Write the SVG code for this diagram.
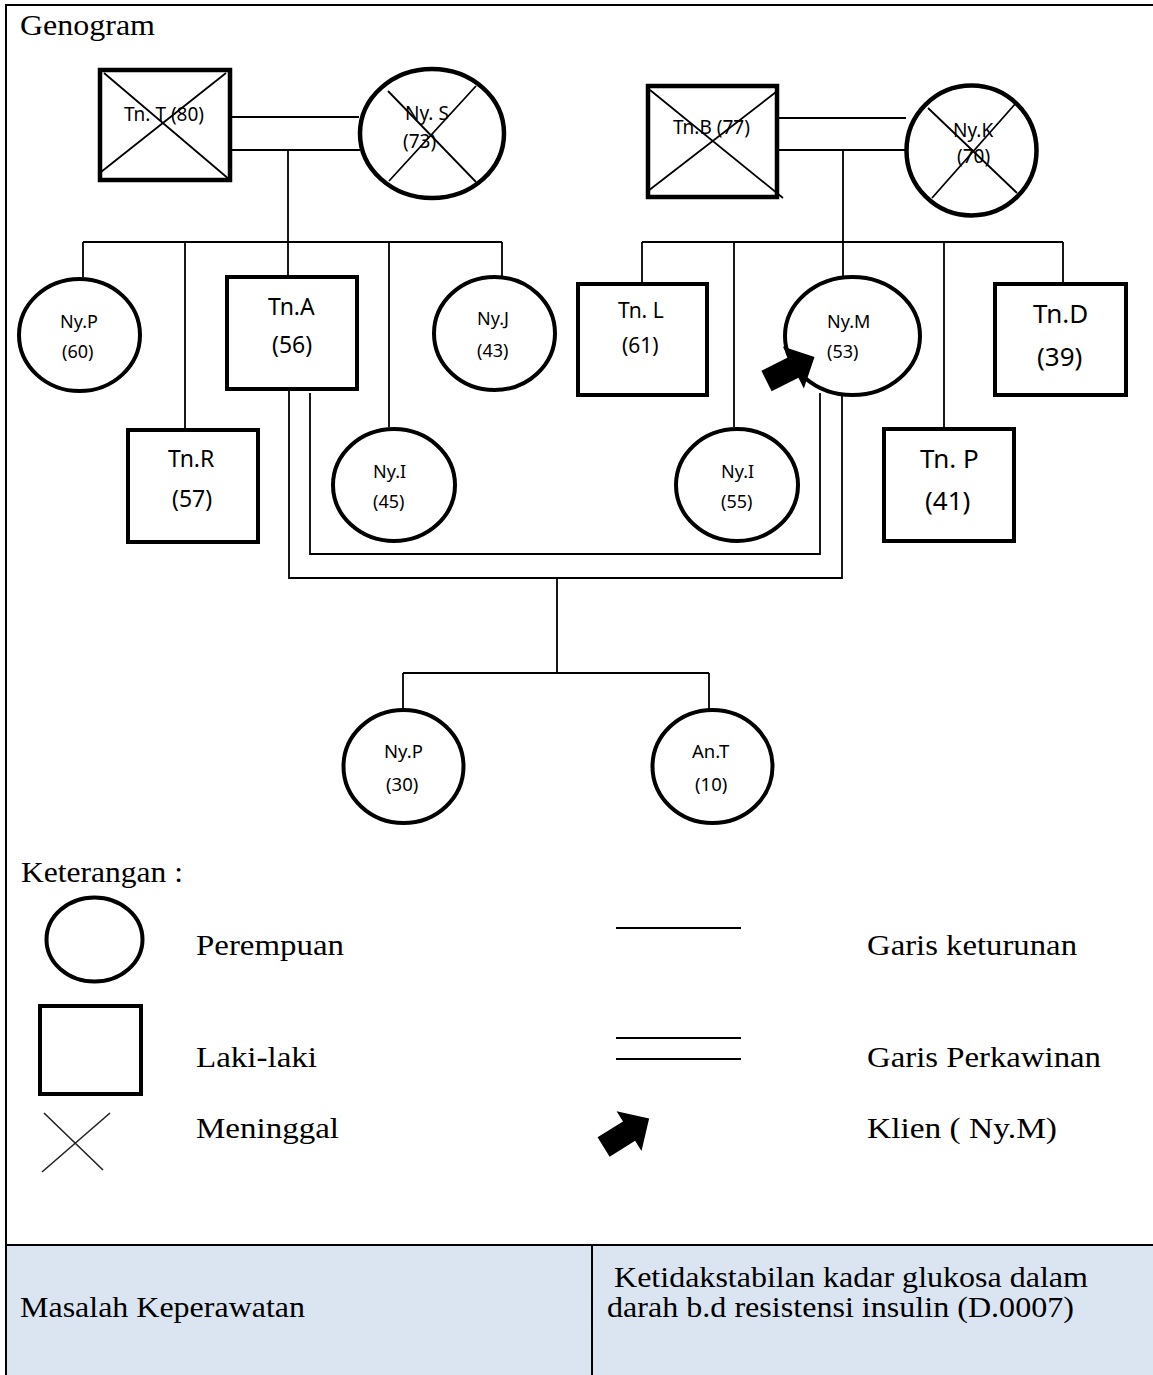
<svg xmlns="http://www.w3.org/2000/svg" xmlns:xlink="http://www.w3.org/1999/xlink" width="1153" height="1375" viewBox="0 0 1153 1375">
<style>
.bg{fill:#fff}
.frame{stroke:#000;stroke-width:2;fill:none}
.shape{fill:#fff;stroke:#000;stroke-width:4}
.gp{stroke-width:4.5}
.cross{stroke:#000;stroke-width:1.8;fill:none}
.conn{stroke:#000;stroke-width:1.8;fill:none}
.lbl{font-family:"Noto Sans","Open Sans",sans-serif;fill:#000}
.serif{font-family:"Liberation Serif","Times New Roman",serif;font-size:30px;fill:#000}
.leg{stroke:#000;stroke-width:2.2;fill:none}
.legx{stroke:#222;stroke-width:1.6;fill:none}
</style>
<defs>
<polygon id="klien-arrow" points="0,-11.4 30,-11.4 30,-23.5 53.7,0 30,23.5 30,11.4 0,11.4" fill="#000"/>
</defs>
<rect class="bg" x="0" y="0" width="1153" height="1375"/>
<g id="frame">
<rect x="6" y="1245" width="1147" height="130" fill="#DBE5F1"/>
<path class="frame" d="M5 5 H1153 M6 5 V1375 M6 1245 H1153 M592 1245 V1375"/>
<text class="serif" x="20" y="35" textLength="135" lengthAdjust="spacingAndGlyphs">Genogram</text>
</g>
<g id="connectors">
<path class="conn" d="M232 117 H359 M232 150 H360 M288 150 V242 M83 242 H502 M83 242 V277 M185 242 V428 M288 242 V275 M389 242 V427 M502 242 V276"/>
<path class="conn" d="M779 118 H906 M779 150 H905 M843 150 V242 M642 242 H1063 M642 242 V284 M734 242 V427 M843 242 V277 M944 242 V429 M1063 242 V284"/>
<path class="conn" d="M289 391 V578 H842 V395 M310 393 V554 H820 V393"/>
<path class="conn" d="M557 578 V673 M403 673 H709 M403 673 V710 M709 673 V710"/>
</g>
<g id="tn-t">
<rect class="shape gp" x="100" y="70" width="130" height="110"/>
<path class="cross" d="M104 73 L230 180 M226 73 L101 172"/>
<text class="lbl" x="124" y="121" font-size="19">Tn. T (80)</text>
</g>
<g id="ny-s">
<ellipse class="shape gp" cx="432" cy="133.5" rx="72" ry="64.5"/>
<path class="cross" d="M388 91 L476 182 M476 86 L389 181"/>
<text class="lbl" x="405" y="120" font-size="19">Ny. S</text>
<text class="lbl" x="403" y="148" font-size="19">(73)</text>
</g>
<g id="tn-b">
<rect class="shape gp" x="648" y="86" width="129" height="111"/>
<path class="cross" d="M650 90 L783 198 M776 92 L648 191"/>
<text class="lbl" x="673" y="134" font-size="19">Tn.B (77)</text>
</g>
<g id="ny-k">
<ellipse class="shape gp" cx="971.5" cy="150.5" rx="65" ry="65"/>
<path class="cross" d="M928 108 L1017 193 M1016 103 L932 198"/>
<text class="lbl" x="953" y="137" font-size="19">Ny.K</text>
<text class="lbl" x="957" y="163" font-size="19">(70)</text>
</g>
<g id="ny-p60">
<ellipse class="shape" cx="79.5" cy="335" rx="60.5" ry="56"/>
<text class="lbl" x="60" y="328" font-size="18">Ny.P</text>
<text class="lbl" x="62" y="358" font-size="18">(60)</text>
</g>
<g id="tn-a">
<rect class="shape" x="227" y="277" width="130" height="112"/>
<text class="lbl" x="268" y="315" font-size="23">Tn.A</text>
<text class="lbl" x="272" y="353" font-size="23">(56)</text>
</g>
<g id="ny-j">
<ellipse class="shape" cx="494.5" cy="333.5" rx="60.5" ry="56.5"/>
<text class="lbl" x="477" y="325" font-size="18">Ny.J</text>
<text class="lbl" x="477" y="357" font-size="18">(43)</text>
</g>
<g id="tn-r">
<rect class="shape" x="128" y="430" width="130" height="112"/>
<text class="lbl" x="168" y="467" font-size="23">Tn.R</text>
<text class="lbl" x="172" y="507" font-size="23">(57)</text>
</g>
<g id="ny-i45">
<ellipse class="shape" cx="394" cy="485" rx="61" ry="56"/>
<text class="lbl" x="373" y="478" font-size="18">Ny.I</text>
<text class="lbl" x="373" y="508" font-size="18">(45)</text>
</g>
<g id="tn-l">
<rect class="shape" x="578" y="284" width="129" height="111"/>
<text class="lbl" x="618" y="318" font-size="21">Tn. L</text>
<text class="lbl" x="622" y="353" font-size="21">(61)</text>
</g>
<g id="ny-m">
<ellipse class="shape" cx="852.5" cy="336" rx="67.5" ry="59"/>
<text class="lbl" x="827" y="328" font-size="18">Ny.M</text>
<text class="lbl" x="827" y="358" font-size="18">(53)</text>
<use xlink:href="#klien-arrow" href="#klien-arrow" transform="translate(766.5 381) rotate(-26.6)"/>
</g>
<g id="tn-d">
<rect class="shape" x="995" y="284" width="131" height="111"/>
<text class="lbl" x="1033" y="323" font-size="26">Tn.D</text>
<text class="lbl" x="1037" y="366" font-size="26">(39)</text>
</g>
<g id="ny-i55">
<ellipse class="shape" cx="737" cy="485" rx="61" ry="56"/>
<text class="lbl" x="721" y="478" font-size="18">Ny.I</text>
<text class="lbl" x="721" y="508" font-size="18">(55)</text>
</g>
<g id="tn-p">
<rect class="shape" x="884" y="429" width="130" height="112"/>
<text class="lbl" x="920" y="468" font-size="26">Tn. P</text>
<text class="lbl" x="925" y="510" font-size="26">(41)</text>
</g>
<g id="ny-p30">
<ellipse class="shape" cx="403.5" cy="766.5" rx="60" ry="56.5"/>
<text class="lbl" x="384" y="758" font-size="18.5">Ny.P</text>
<text class="lbl" x="386" y="791" font-size="18.5">(30)</text>
</g>
<g id="an-t">
<ellipse class="shape" cx="712.5" cy="766.5" rx="60" ry="56.5"/>
<text class="lbl" x="692" y="758" font-size="18.5">An.T</text>
<text class="lbl" x="695" y="791" font-size="18.5">(10)</text>
</g>
<g id="legend">
<text class="serif" x="21" y="882" textLength="162" lengthAdjust="spacingAndGlyphs">Keterangan :</text>
<ellipse class="shape" cx="94.5" cy="939.5" rx="48" ry="42"/>
<text class="serif" x="196" y="955" textLength="148" lengthAdjust="spacingAndGlyphs">Perempuan</text>
<path class="leg" d="M616 928 H741"/>
<text class="serif" x="867" y="955" textLength="210" lengthAdjust="spacingAndGlyphs">Garis keturunan</text>
<rect class="shape" x="40" y="1006" width="101" height="88"/>
<text class="serif" x="196" y="1067" textLength="121" lengthAdjust="spacingAndGlyphs">Laki-laki</text>
<path class="leg" d="M616 1038 H741 M616 1059 H741"/>
<text class="serif" x="867" y="1067" textLength="234" lengthAdjust="spacingAndGlyphs">Garis Perkawinan</text>
<path class="legx" d="M44 1113 L103 1170 M110 1113 L42 1172"/>
<text class="serif" x="196" y="1138" textLength="143" lengthAdjust="spacingAndGlyphs">Meninggal</text>
<use xlink:href="#klien-arrow" href="#klien-arrow" transform="translate(603.6 1147) rotate(-32)"/>
<text class="serif" x="867" y="1138" textLength="190" lengthAdjust="spacingAndGlyphs">Klien ( Ny.M)</text>
</g>
<g id="problem">
<text class="serif" x="20" y="1317" textLength="285" lengthAdjust="spacingAndGlyphs">Masalah Keperawatan</text>
<text class="serif" x="614" y="1287" textLength="474" lengthAdjust="spacingAndGlyphs">Ketidakstabilan kadar glukosa dalam</text>
<text class="serif" x="607" y="1317" textLength="467" lengthAdjust="spacingAndGlyphs">darah b.d resistensi insulin (D.0007)</text>
</g>
</svg>
